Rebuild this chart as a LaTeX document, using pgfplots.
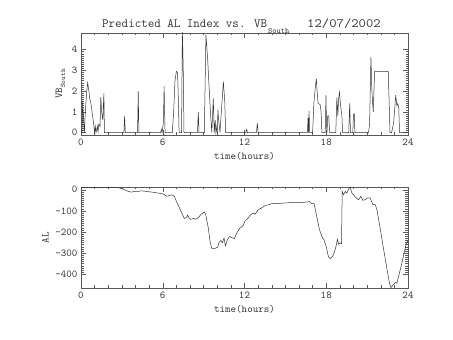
\documentclass[border=0pt]{standalone}
\usepackage{pgfplots}
\pgfplotsset{compat=1.18}
\usepackage{graphicx}
\begin{document}
\begin{tikzpicture}
\path[use as bounding box] (0pt,0pt) rectangle (453pt,340pt);
\pgfplotsset{myaxis/.style={scale only axis, width=327pt, xmin=0, xmax=24,
  xtick={0,6,12,18,24}, xticklabels={0,6,12,18,24},
  minor x tick num=5, minor y tick num=9,
  tick align=inside, major tick length=5pt, minor tick length=2.5pt,
  axis line style={black!65, line width=0.5pt},
  every tick/.style={black!65, line width=0.4pt},
  ticklabel style={font=\ttfamily\fontsize{10.5}{12}\selectfont, text=black!80},
  label style={font=\ttfamily\fontsize{10.5}{12}\selectfont, text=black!80},
  xlabel={time(hours)}, anchor=south west, clip=true}}
\begin{axis}[myaxis, height=102pt, at={(81pt,205pt)},
  ymin=-0.12, ymax=4.8, ytick={0,1,2,3,4}, yticklabels={0,1,2,3,4},
  ylabel={VB\raisebox{-3pt}{\fontsize{7}{7}\selectfont South}}]
\addplot[black!80, line width=0.5pt] coordinates {
(0,0) (0.08,0) (0.12,1.5) (0.2,0.5) (0.25,0) (0.3,0.8) (0.42,2.0) (0.49,2.4) (0.58,2.0) (0.65,1.6) (0.7,1.5) (0.75,1.3) (0.85,0.8) (0.95,0.3) (1.0,0) (1.05,0.3) (1.1,0) (1.2,0.3) (1.25,0) (1.3,0.4) (1.4,0.3) (1.45,1.7) (1.52,1.0) (1.6,0.6) (1.68,1.9) (1.72,0)
(3.15,0) (3.2,0.8) (3.25,0) (4.15,0) (4.2,2.0) (4.25,0) (5.85,0) (5.9,0.15) (5.95,0) (6.05,0.5) (6.1,2.25) (6.17,0)
(6.7,0) (6.8,1.0) (6.9,2.5) (7.0,2.95) (7.08,2.9) (7.13,2.0) (7.2,0) (7.38,0) (7.44,4.9) (7.5,3.2) (7.56,0)
(8.55,0) (8.61,1.0) (8.66,0) (9.05,0) (9.17,4.72) (9.3,3.5) (9.4,2.2) (9.5,1.0) (9.6,0) (9.71,1.65) (9.78,0) (9.85,0.6) (9.9,0) (9.97,0.3) (10.0,0) (10.05,1.1) (10.12,0.5) (10.2,0) (10.3,1.0) (10.45,2.45) (10.55,1.5) (10.62,0)
(12.1,0) (12.16,0.15) (12.22,0) (12.88,0) (12.94,0.45) (13.0,0)
(16.62,0) (16.66,0.7) (16.7,0) (16.74,1.05) (16.78,0) (17.0,0) (17.1,1.5) (17.2,2.2) (17.27,2.6) (17.35,1.8) (17.4,1.4) (17.55,1.35) (17.62,1.0) (17.68,0)
(17.92,0) (17.98,1.8) (18.02,0.3) (18.06,0) (18.1,0.8) (18.18,0.8) (18.25,0) (18.7,0) (18.78,1.7) (18.85,0.8) (18.9,1.6) (18.97,1.95) (19.05,1.3) (19.15,0.8) (19.2,0)
(19.65,0) (19.72,1.4) (19.78,0) (19.95,0) (20.0,0.9) (20.06,0.9) (20.1,0)
(21.1,0) (21.18,0.4) (21.28,3.65) (21.35,2.0) (21.45,1.0) (21.55,2.95) (22.55,2.95) (22.68,0) (22.8,0) (22.95,0.5) (23.1,1.8) (23.18,1.3) (23.25,1.4) (23.32,1.2) (23.38,0) (24,0)
};
\end{axis}
\begin{axis}[myaxis, height=101pt, at={(81pt,52pt)},
  ymin=-465, ymax=13, ytick={-400,-300,-200,-100,0}, yticklabels={-400,-300,-200,-100,0},
  ylabel={AL}]
\addplot[black!80, line width=0.5pt] coordinates {
(0,10) (1,10) (2,10) (2.74,10) (2.98,5) (3.2,0) (3.47,-8) (3.7,-11) (3.96,-8) (4.2,-8) (4.45,-5) (4.8,-8) (5.19,-11) (5.68,-16) (6.04,-20) (6.29,-31) (6.5,-27) (6.7,-24) (6.85,-31) (7.0,-55) (7.12,-71) (7.34,-102) (7.5,-125) (7.58,-136) (7.75,-130) (7.82,-120) (7.9,-130) (8.04,-140) (8.24,-136) (8.43,-140) (8.6,-133) (8.8,-117) (9.05,-105) (9.15,-117) (9.34,-180) (9.47,-243) (9.59,-278) (9.83,-278) (10.03,-272) (10.12,-251) (10.27,-240) (10.38,-251) (10.5,-229) (10.6,-265) (10.75,-235) (10.9,-221) (11.07,-227) (11.26,-231) (11.43,-205) (11.63,-185) (11.91,-168) (12.03,-149) (12.28,-133) (12.4,-122) (12.65,-110) (12.77,-116) (13.02,-94) (13.26,-86) (13.51,-75) (13.76,-71) (14.0,-66) (14.37,-66) (14.86,-63) (15.6,-60) (16.33,-60) (16.77,-56) (16.94,-66) (17.11,-66) (17.3,-126) (17.5,-188) (17.67,-220) (17.84,-238) (17.99,-267) (18.16,-317) (18.28,-326) (18.48,-314) (18.6,-295) (18.72,-267) (18.82,-235) (18.92,-259) (19.02,-251) (19.12,-255) (19.17,-8) (19.27,-24) (19.39,-8) (19.51,-16) (19.64,3) (19.76,12) (19.88,-16) (20.0,-24) (20.2,-39) (20.37,-47) (20.54,-31) (20.69,-50) (20.86,-47) (21.03,-39) (21.23,-39) (21.42,-71) (21.6,-71) (21.72,-94) (21.97,-188) (22.21,-282) (22.46,-376) (22.63,-439) (22.75,-463) (22.9,-452) (23.07,-439) (23.19,-442) (23.32,-408) (23.44,-376) (23.56,-345) (23.69,-306) (23.86,-259) (24,-240)
};
\end{axis}
\node[anchor=base west, font=\ttfamily\fontsize{12.65}{14}\selectfont, text=black!80, inner sep=0pt] at (102pt,312pt) {Predicted AL Index vs. VB};
\node[anchor=base west, font=\ttfamily\fontsize{8}{8}\selectfont, text=black!80, inner sep=0pt] at (268pt,306pt) {South};
\node[anchor=base west, font=\ttfamily\fontsize{12.65}{14}\selectfont, text=black!80, inner sep=0pt] at (307pt,312pt) {\scalebox{1.13}[1]{12/07/2002}};
\end{tikzpicture}
\end{document}
